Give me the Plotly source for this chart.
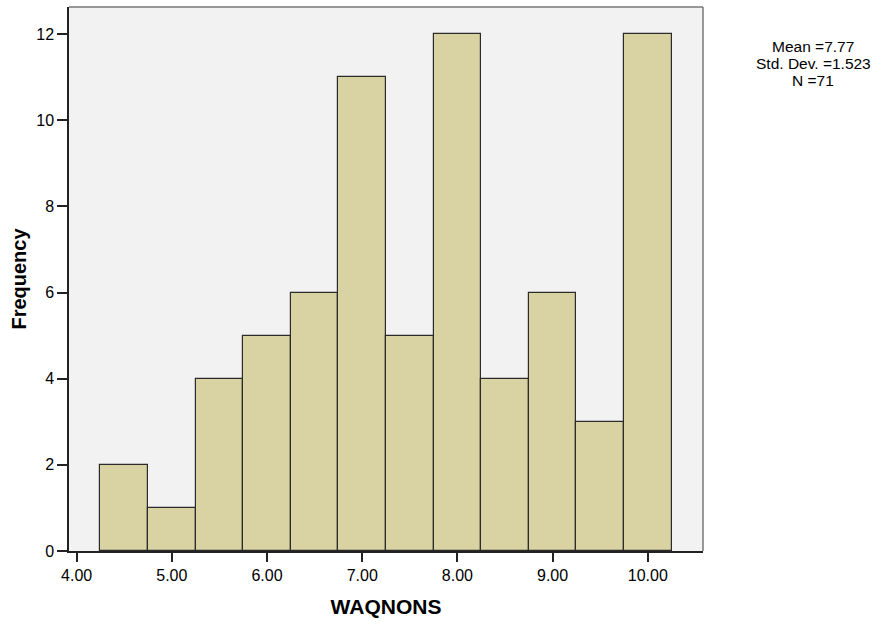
import plotly.graph_objects as go

# Histogram of WAQNONS (bin width 0.5)
bin_centers = [4.5, 5.0, 5.5, 6.0, 6.5, 7.0, 7.5, 8.0, 8.5, 9.0, 9.5, 10.0]
frequencies = [2, 1, 4, 5, 6, 11, 5, 12, 4, 6, 3, 12]
bin_width = 0.5
x_ticks = [4, 5, 6, 7, 8, 9, 10]
x_tick_text = ["4.00", "5.00", "6.00", "7.00", "8.00", "9.00", "10.00"]
y_ticks = [0, 2, 4, 6, 8, 10, 12]
stats_lines = ["Mean =7.77", "Std. Dev. =1.523", "N =71"]

# plot-area geometry in pixels
W, H = 881, 627
L, R, T, B = 69, 178, 7, 76
plot_h = H - T - B

fig = go.Figure()
fig.add_trace(go.Bar(
    x=bin_centers,
    y=frequencies,
    width=bin_width,
    marker=dict(color="#d9d3a3", line=dict(color="#2b2b2b", width=1.2)),
    hoverinfo="x+y",
))

annotations = []
for i, line in enumerate(stats_lines):
    y_px = 47 + 17 * i
    annotations.append(dict(
        text=line, xref="paper", yref="paper",
        x=(813 - L) / (W - L - R), y=(H - B - y_px) / plot_h,
        xanchor="center", yanchor="middle", showarrow=False,
        font=dict(size=15.5, color="#000"),
    ))

fig.update_layout(
    width=W,
    height=H,
    margin=dict(l=L, r=R, t=T, b=B),
    paper_bgcolor="white",
    plot_bgcolor="#f2f2f2",
    showlegend=False,
    bargap=0,
    font=dict(family="Arial, Liberation Sans, sans-serif", color="#000000"),
    xaxis=dict(
        range=[3.92, 10.58],
        tickvals=x_ticks,
        ticktext=x_tick_text,
        ticks="outside",
        ticklen=9,
        tickwidth=1.5,
        tickcolor="#222",
        showline=True,
        linecolor="#222",
        linewidth=1.5,
        showgrid=False,
        zeroline=False,
        tickfont=dict(size=16),
        title=dict(text="<b>WAQNONS</b>", font=dict(size=21), standoff=16),
    ),
    yaxis=dict(
        range=[0, 12.63],
        tickvals=y_ticks,
        ticks="outside",
        ticklen=10,
        tickwidth=1.5,
        tickcolor="#222",
        showline=True,
        linecolor="#222",
        linewidth=1.5,
        showgrid=False,
        zeroline=False,
        tickfont=dict(size=16),
        title=dict(text="<b>Frequency</b>", font=dict(size=20), standoff=4),
    ),
    shapes=[
        dict(type="line", xref="paper", yref="paper", x0=0, x1=1, y0=1, y1=1,
             line=dict(color="#777", width=1.5)),
        dict(type="line", xref="paper", yref="paper", x0=1, x1=1, y0=0, y1=1,
             line=dict(color="#777", width=1.5)),
    ],
    annotations=annotations,
)

fig.write_html("out.html")
